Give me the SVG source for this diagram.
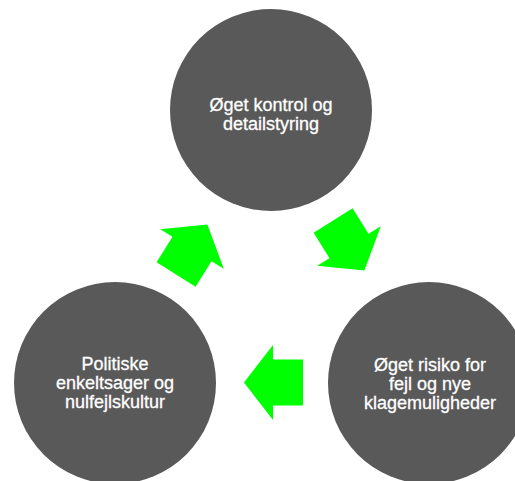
<svg xmlns="http://www.w3.org/2000/svg" width="515" height="481" viewBox="0 0 515 481">
<style>
.node{fill:#595959}
.lbl{font-family:"Liberation Sans",Arial,sans-serif;font-size:18px;fill:#ffffff;text-anchor:middle;stroke:#ffffff;stroke-width:0.3}
.arr{fill:#00ff00}
</style>
<defs>
<path id="arrow" d="M -30,-23 L 0,-23 L 0,-37.5 L 29,0 L 0,37.5 L 0,23 L -30,23 Z"/>
</defs>
<rect width="515" height="481" fill="#ffffff"/>
<g id="node-top">
<circle class="node" cx="271" cy="110" r="101"/>
<text class="lbl"><tspan x="271" y="111">Øget kontrol og</tspan><tspan x="271" y="130">detailstyring</tspan></text>
</g>
<g id="node-right">
<circle class="node" cx="429" cy="383" r="101"/>
<text class="lbl"><tspan x="430" y="370.5">Øget risiko for</tspan><tspan x="430" y="389.5">fejl og nye</tspan><tspan x="430" y="408.5">klagemuligheder</tspan></text>
</g>
<g id="node-left">
<circle class="node" cx="115" cy="383" r="101"/>
<text class="lbl"><tspan x="115" y="370">Politiske</tspan><tspan x="115" y="389">enkeltsager og</tspan><tspan x="115" y="408">nulfejlskultur</tspan></text>
</g>
<g id="connectors">
<use href="#arrow" class="arr" transform="translate(349,246) rotate(58)"/>
<use href="#arrow" class="arr" transform="translate(273,382.5) rotate(180)"/>
<use href="#arrow" class="arr" transform="translate(192,249) rotate(-58)"/>
</g>
</svg>
